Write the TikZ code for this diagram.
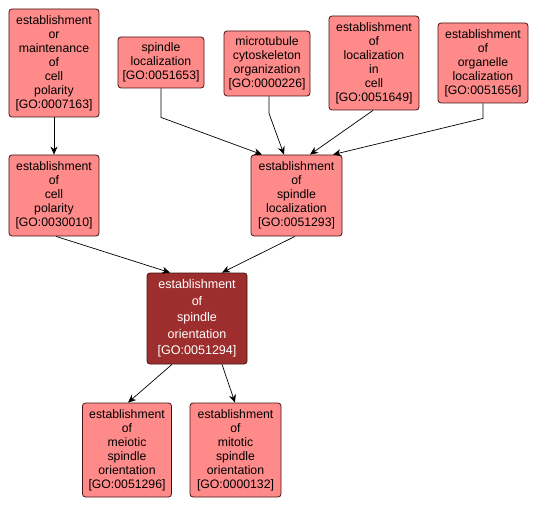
\documentclass[tikz,border=0pt]{standalone}
\usepackage{fontspec}
\setmainfont{Liberation Sans}
\usetikzlibrary{arrows.meta,calc}
\definecolor{gofill}{RGB}{255,138,138}
\definecolor{godark}{RGB}{158,46,46}
\definecolor{goborder}{RGB}{70,20,20}
\begin{document}
\begin{tikzpicture}[x=1bp,y=-1bp,
  gobox/.style={draw=goborder, fill=gofill, rounded corners=3bp, inner sep=0pt, align=center,
     font=\fontsize{12.3}{14}\selectfont, line width=0.8bp},
  gosel/.style={gobox, fill=godark, text=white, font=\fontsize{12.6}{16.5}\selectfont},
  link/.style={-{Stealth[length=8bp,width=7bp,inset=2.5bp]}, line width=0.7bp}]
\useasboundingbox (0,0) rectangle (539,507);
\node[gobox, minimum width=90bp, minimum height=108bp] (a) at (54,63)
  {establishment\\or\\maintenance\\of\\cell\\polarity\\{[GO:0007163]}};
\node[gobox, minimum width=86bp, minimum height=51bp] (b) at (161,62.5)
  {spindle\\localization\\{[GO:0051653]}};
\node[gobox, minimum width=86bp, minimum height=65bp] (c) at (267,63.5)
  {microtubule\\cytoskeleton\\organization\\{[GO:0000226]}};
\node[gobox, minimum width=90bp, minimum height=94bp] (d) at (374,63)
  {establishment\\of\\localization\\in\\cell\\{[GO:0051649]}};
\node[gobox, minimum width=90bp, minimum height=80bp] (e) at (483,63)
  {establishment\\of\\organelle\\localization\\{[GO:0051656]}};
\node[gobox, minimum width=90bp, minimum height=81bp] (f) at (54,195.5)
  {establishment\\of\\cell\\polarity\\{[GO:0030010]}};
\node[gobox, minimum width=91bp, minimum height=81bp] (g) at (296.5,195.5)
  {establishment\\of\\spindle\\localization\\{[GO:0051293]}};
\node[gosel, minimum width=100bp, minimum height=91bp] (h) at (197,318.5)
  {establishment\\of\\spindle\\orientation\\{[GO:0051294]}};
\node[gobox, minimum width=89bp, minimum height=94bp] (i) at (127,450)
  {establishment\\of\\meiotic\\spindle\\orientation\\{[GO:0051296]}};
\node[gobox, minimum width=91bp, minimum height=94bp] (j) at (235.5,450)
  {establishment\\of\\mitotic\\spindle\\orientation\\{[GO:0000132]}};
\draw[link] (a.south) -- (f.north);
\draw[link] (b.south) -- ++(0,29) -- ($(g.north)+(-34.5,0)$);
\draw[link] ($(c.south)+(2,0)$) -- ++(0,17) -- ($(g.north)+(-12.5,0)$);
\draw[link] ($(d.south)+(-1,0)$) -- ($(g.north)+(13.5,0)$);
\draw[link] (e.south) -- ++(0,15) -- ($(g.north)+(36.5,0)$);
\draw[link] ($(f.south)+(2,0)$) -- ($(h.north)+(-27,0)$);
\draw[link] ($(g.south)+(-1.5,0)$) -- ($(h.north)+(25,0)$);
\draw[link] ($(h.south)+(-25,0)$) -- ($(i.north)+(1,0)$);
\draw[link] ($(h.south)+(25,0)$) -- ($(j.north)+(-0.5,0)$);
\end{tikzpicture}
\end{document}
